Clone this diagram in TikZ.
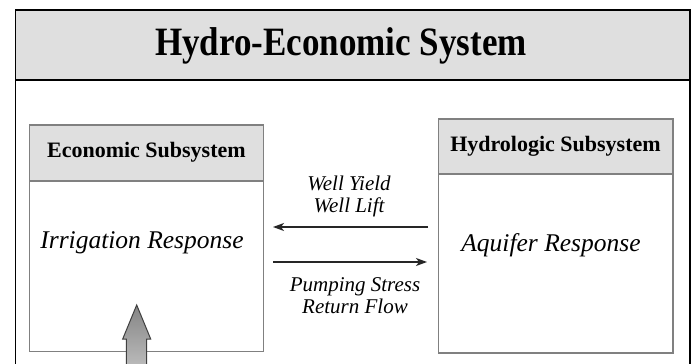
\documentclass[tikz,border=0pt]{standalone}
\usepackage{fontspec}
\setmainfont{Liberation Serif}[BoldFont={Liberation Serif Bold}, ItalicFont={Liberation Serif Italic}, BoldItalicFont={Liberation Serif Bold Italic}]
\usetikzlibrary{arrows.meta}
\definecolor{hdrgray}{HTML}{DFDFDF}
\definecolor{boxgray}{HTML}{808080}
\tikzset{
  subbox/.style={draw=boxgray, line width=1.6pt, fill=white, rectangle, anchor=north west, inner sep=0pt, outer sep=0pt},
  hdrbox/.style={draw=boxgray, line width=1.6pt, fill=hdrgray, rectangle, anchor=north west, inner sep=0pt, outer sep=0pt, font=\fontsize{22}{24}\selectfont\bfseries},
  bodytxt/.style={font=\fontsize{25.5}{28}\selectfont\itshape, inner sep=0pt},
  lbltxt/.style={font=\fontsize{21}{22}\selectfont\itshape, inner sep=0pt, align=center},
  flow/.style={-{Stealth[length=11pt,width=8pt,inset=3pt]}, line width=1.1pt, draw=black!85}
}
\begin{document}
\begin{tikzpicture}[x=1pt,y=-1pt]
\useasboundingbox (0,0) rectangle (694,364);
\clip (0,0) rectangle (694,364);
\fill[white] (0,0) rectangle (694,364);
% outer frame and title band
\draw[fill=hdrgray, draw=black, line width=1.4pt] (15.5,10) rectangle (690,80);
\draw[black, line width=1.4pt] (15.5,80) -- (15.5,380) (690,80) -- (690,380);
\node[font=\fontsize{35}{36}\selectfont\bfseries, inner sep=0pt, yscale=1.15] (title) at (341,46) {Hydro-Economic System};
% economic subsystem
\node[subbox, minimum width=233.8pt, minimum height=226.6pt] (econ) at (29.5,124.7) {};
\node[hdrbox, minimum width=233.8pt, minimum height=56pt] (econhdr) at (29.5,124.7) {Economic Subsystem};
\node[bodytxt] (irr) at (142,243) {Irrigation Response};
% hydrologic subsystem
\node[subbox, minimum width=234.4pt, minimum height=233.7pt] (hydro) at (438.3,119) {};
\node[hdrbox, minimum width=234.4pt, minimum height=55pt] (hydrohdr) at (438.3,119) {Hydrologic Subsystem};
\node[bodytxt] (aq) at (551,245) {Aquifer Response};
% flows
\coordinate (la) at (428,227);
\coordinate (lb) at (273,227);
\coordinate (ra) at (273,262);
\coordinate (rb) at (427,262);
\draw[flow] (la) -- (lb);
\draw[flow] (ra) -- (rb);
\node[lbltxt] (yield) at (349,196) {Well Yield\\[0pt]Well Lift};
\node[lbltxt] (pump) at (355,296) {Pumping Stress\\[0pt]Return Flow};
% big input arrow
\coordinate (tip) at (136.7,305);
\shade[top color=black!48, bottom color=black!22, draw=black!75, line width=1pt]
  (tip) -- (150.7,339) -- (146.7,339) -- (146.7,380) -- (126.3,380) -- (126.3,339) -- (122.7,339) -- cycle;
\end{tikzpicture}
\end{document}
